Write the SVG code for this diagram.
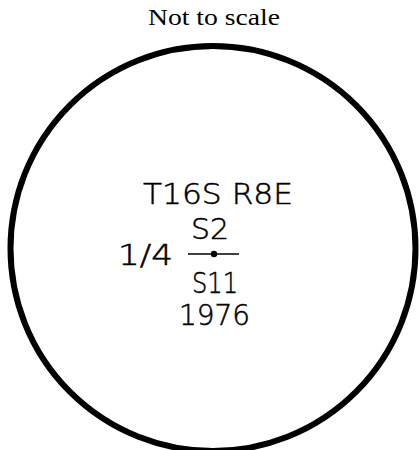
<svg xmlns="http://www.w3.org/2000/svg" width="420" height="450" viewBox="0 0 420 450">
<style>
.t{font-family:"DejaVu Sans","Liberation Sans",sans-serif;font-weight:200;font-size:27.5px;fill:#000;stroke:#000;stroke-width:0.5}
.title{font-family:"Liberation Serif","Times New Roman",serif;font-size:24px;fill:#000}
</style>
<rect width="420" height="450" fill="#fff"/>
<text class="title" x="148" y="25" textLength="132" lengthAdjust="spacingAndGlyphs">Not to scale</text>
<g id="circle">
<circle cx="213" cy="248.5" r="202.5" fill="none" stroke="#000" stroke-width="6"/>
</g>
<g id="label">
<text class="t" x="143" y="204" textLength="150" lengthAdjust="spacingAndGlyphs">T16S  R8E</text>
<text class="t" x="191" y="239" textLength="38" lengthAdjust="spacingAndGlyphs">S2</text>
<text class="t" x="118" y="265" textLength="55" lengthAdjust="spacingAndGlyphs">1/4</text>
<text class="t" x="192" y="293" textLength="46" lengthAdjust="spacingAndGlyphs">S11</text>
<text class="t" x="179" y="325" textLength="71" lengthAdjust="spacingAndGlyphs">1976</text>
</g>
<g id="connectors">
<line x1="188" y1="254" x2="239" y2="254" stroke="#000" stroke-width="1.6"/>
<circle cx="214" cy="254" r="3.2" fill="#000"/>
</g>
</svg>
